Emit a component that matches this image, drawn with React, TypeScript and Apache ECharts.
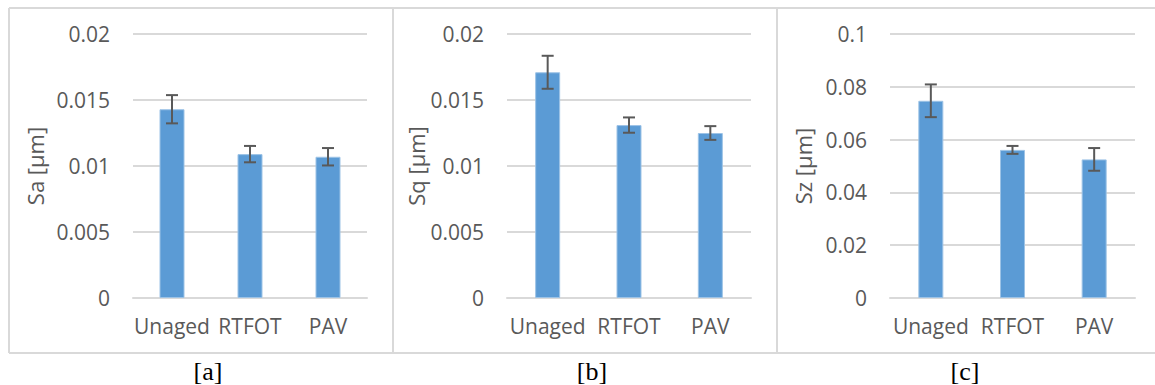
import React, { useEffect, useRef } from "react";
import * as echarts from "echarts";

const categories = ["Unaged", "RTFOT", "PAV"];

const saValues = [0.0143, 0.0109, 0.0107];
const saErrors = [0.00107, 0.00062, 0.00066];

const sqValues = [0.0171, 0.0131, 0.0125];
const sqErrors = [0.00125, 0.00058, 0.00052];

const szValues = [0.0747, 0.0561, 0.0525];
const szErrors = [0.0062, 0.0015, 0.0043];

const panelTitles = ["Sa [µm]", "Sq [µm]", "Sz [µm]"];
const panelCaptions = ["[a]", "[b]", "[c]"];
const yMaxes = [0.02, 0.02, 0.1];
const yIntervals = [0.005, 0.005, 0.02];

const FONT = "Open Sans";
const FS = 21;
const GRAY = "#595959";
const LIGHT = "#d9d9d9";
const BAR = "#5b9bd5";

const panels = [
  { values: saValues, errors: saErrors },
  { values: sqValues, errors: sqErrors },
  { values: szValues, errors: szErrors },
];

const gridLefts = [133, 507, 890];
const gridWidths = [234, 244, 245];
const nameGaps = [87, 78, 76];
const captionX = [208, 592, 965];

export default function App() {
  const ref = useRef<HTMLDivElement>(null);

  useEffect(() => {
    document.body.style.margin = "0";
    if (!ref.current) return;
    const chart = echarts.init(ref.current, null, { renderer: "svg" });

    const grids = panels.map((_, i) => ({
      left: gridLefts[i],
      width: gridWidths[i],
      top: 34,
      height: 264,
      containLabel: false,
    }));

    const xAxes = panels.map((_, i) => ({
      type: "category",
      gridIndex: i,
      data: categories,
      axisLine: { show: true, lineStyle: { color: LIGHT, width: 2 } },
      axisTick: { show: false },
      axisLabel: { color: GRAY, fontFamily: FONT, fontSize: FS, margin: 17, interval: 0 },
    }));

    const yAxes = panels.map((_, i) => ({
      type: "value",
      gridIndex: i,
      min: 0,
      max: yMaxes[i],
      interval: yIntervals[i],
      name: panelTitles[i],
      nameLocation: "middle",
      nameGap: nameGaps[i],
      nameTextStyle: { color: GRAY, fontFamily: FONT, fontSize: 22 },
      axisLine: { show: false },
      axisTick: { show: false },
      axisLabel: { color: GRAY, fontFamily: FONT, fontSize: FS, margin: 23 },
      splitLine: { show: true, lineStyle: { color: LIGHT, width: 2 } },
    }));

    const series: any[] = [];
    panels.forEach((p, i) => {
      series.push({
        type: "bar",
        xAxisIndex: i,
        yAxisIndex: i,
        data: p.values,
        barWidth: 25,
        itemStyle: { color: BAR, borderColor: "#9dc3e6", borderWidth: 1 },
        z: 2,
      });
      series.push({
        type: "custom",
        xAxisIndex: i,
        yAxisIndex: i,
        encode: { x: 0, y: [1, 2] },
        data: p.values.map((v, k) => [k, v - p.errors[k], v + p.errors[k]]),
        z: 5,
        renderItem: (params: any, api: any) => {
          const x = api.value(0);
          const lo = api.coord([x, api.value(1)]);
          const hi = api.coord([x, api.value(2)]);
          const half = 6;
          const style = { stroke: GRAY, lineWidth: 2 };
          return {
            type: "group",
            children: [
              { type: "line", shape: { x1: lo[0], y1: lo[1], x2: hi[0], y2: hi[1] }, style },
              { type: "line", shape: { x1: hi[0] - half, y1: hi[1], x2: hi[0] + half, y2: hi[1] }, style },
              { type: "line", shape: { x1: lo[0] - half, y1: lo[1], x2: lo[0] + half, y2: lo[1] }, style },
            ],
          };
        },
      });
    });

    const borderStyle = { stroke: LIGHT, lineWidth: 2 };
    const graphic: any[] = [
      { type: "line", shape: { x1: 9, y1: 8, x2: 1155, y2: 8 }, style: borderStyle },
      { type: "line", shape: { x1: 9, y1: 353, x2: 1155, y2: 353 }, style: borderStyle },
      { type: "line", shape: { x1: 9, y1: 8, x2: 9, y2: 353 }, style: borderStyle },
      { type: "line", shape: { x1: 393, y1: 8, x2: 393, y2: 353 }, style: borderStyle },
      { type: "line", shape: { x1: 777, y1: 8, x2: 777, y2: 353 }, style: borderStyle },
      ...panelCaptions.map((c, i) => ({
        type: "text",
        x: captionX[i],
        y: 371,
        style: {
          text: c,
          fill: "#000",
          font: "26px 'Liberation Serif', serif",
          align: "center",
          verticalAlign: "middle",
        },
      })),
    ];

    chart.setOption({
      animation: false,
      backgroundColor: "#fff",
      grid: grids,
      xAxis: xAxes,
      yAxis: yAxes,
      series,
      graphic,
    });

    return () => chart.dispose();
  }, []);

  return <div ref={ref} style={{ width: 1155, height: 385 }} />;
}
